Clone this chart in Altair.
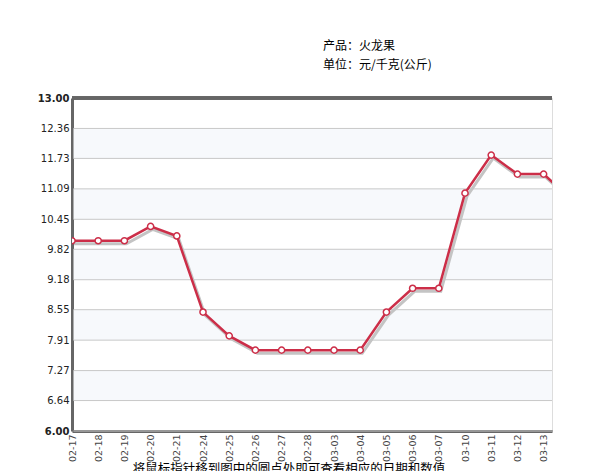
import altair as alt
import pandas as pd

# ---- data ----
dates = ["02-17", "02-18", "02-19", "02-20", "02-21", "02-24", "02-25", "02-26", "02-27", "02-28",
         "03-03", "03-04", "03-05", "03-06", "03-07", "03-10", "03-11", "03-12", "03-13", "03-14"]
prices = [10.0, 10.0, 10.0, 10.3, 10.1, 8.5, 8.0, 7.7, 7.7, 7.7,
          7.7, 7.7, 8.5, 9.0, 9.0, 11.0, 11.8, 11.4, 11.4, 10.9]
y_ticks = [13.00, 12.36, 11.73, 11.09, 10.45, 9.82, 9.18, 8.55, 7.91, 7.27, 6.64, 6.00]
shown_dates = dates[:19]
title_lines = ["产品：火龙果", "单位：元/千克(公斤)"]
footer = "将鼠标指针移到图中的圆点处即可查看相应的日期和数值"

W, H = 480, 333
LINE = "#CC2E48"

df = pd.DataFrame({"idx": list(range(len(dates))), "date": dates, "price": prices})
grid_df = pd.DataFrame({"v": y_ticks})
bands_df = pd.DataFrame({
    "y1": [y_ticks[i] for i in range(1, len(y_ticks) - 1, 2)],
    "y2": [y_ticks[i + 1] for i in range(1, len(y_ticks) - 1, 2)],
})

yscale = alt.Scale(domain=[6, 13], nice=False, zero=False)
xscale = alt.Scale(domain=[0, 18.32], nice=False, zero=False)

label_arr = "[" + ",".join("'%s'" % d for d in shown_dates) + "]"

x_axis = alt.Axis(
    values=list(range(len(shown_dates))),
    labelExpr=label_arr + "[datum.value]",
    labelAngle=270, labelAlign="right", labelBaseline="middle",
    labelFont="DejaVu Sans", labelFontSize=9.5, labelColor="#444444",
    labelPadding=3, ticks=False, grid=False, title=None,
    domainColor="#666666", domainWidth=3, labelOverlap=False,
)
y_axis = alt.Axis(
    values=y_ticks, format=".2f",
    labelFont="DejaVu Sans", labelFontSize=10, labelColor="#222222",
    labelFontWeight={"condition": {"test": "datum.value >= 12.99 || datum.value <= 6.01", "value": "bold"},
                     "value": "normal"},
    labelPadding=3, ticks=False, grid=False, title=None,
    domainColor="#666666", domainWidth=3,
)

bands = alt.Chart(bands_df).mark_rect(color="#F7F9FC").encode(
    y=alt.Y("y1:Q", scale=yscale, axis=y_axis),
    y2="y2:Q",
    x=alt.value(1.5), x2=alt.value(W),
)

grid = alt.Chart(grid_df).mark_rule(color="#C8C8C8", strokeWidth=1).encode(
    y=alt.Y("v:Q", scale=yscale, axis=y_axis),
    x=alt.value(1.5), x2=alt.value(W),
)

shadow = alt.Chart(df).mark_line(color="#C4C4C4", strokeWidth=3, xOffset=2, yOffset=3, clip=True).encode(
    x=alt.X("idx:Q", scale=xscale, axis=x_axis),
    y=alt.Y("price:Q", scale=yscale, axis=y_axis),
)

line = alt.Chart(df).mark_line(color=LINE, strokeWidth=2.5, clip=True).encode(
    x=alt.X("idx:Q", scale=xscale, axis=x_axis),
    y=alt.Y("price:Q", scale=yscale, axis=y_axis),
)

pts = alt.Chart(df).mark_point(filled=True, fill="white", stroke=LINE, strokeWidth=1.5,
                                size=38, opacity=1, clip=True).encode(
    x=alt.X("idx:Q", scale=xscale, axis=x_axis),
    y=alt.Y("price:Q", scale=yscale, axis=y_axis),
)

top_line = alt.Chart(grid_df).mark_rule(color="#666666", strokeWidth=2.5).encode(
    y=alt.value(0), x=alt.value(0), x2=alt.value(W),
)

t1 = alt.Chart(pd.DataFrame({"t": [title_lines[0]]})).mark_text(
    align="left", baseline="middle", font="Noto Sans CJK SC", fontSize=12, color="#000000"
).encode(text="t:N", x=alt.value(251), y=alt.value(-52))
t2 = alt.Chart(pd.DataFrame({"t": [title_lines[1]]})).mark_text(
    align="left", baseline="middle", font="Noto Sans CJK SC", fontSize=12, color="#000000"
).encode(text="t:N", x=alt.value(251), y=alt.value(-33))
foot = alt.Chart(pd.DataFrame({"t": [footer]})).mark_text(
    align="center", baseline="middle", font="Noto Sans CJK SC", fontSize=12.5, color="#000000"
).encode(text="t:N", x=alt.value(217), y=alt.value(371))

chart = alt.layer(bands, grid, shadow, line, pts, top_line, t1, t2, foot).properties(
    width=W, height=H,
    autosize=alt.AutoSizeParams(type="none"),
    padding={"left": 64, "top": 90, "right": 50, "bottom": 40},
).configure_view(stroke=None).configure(background="white")

chart.save("out.html", embed_options={"renderer": "svg", "actions": False})
